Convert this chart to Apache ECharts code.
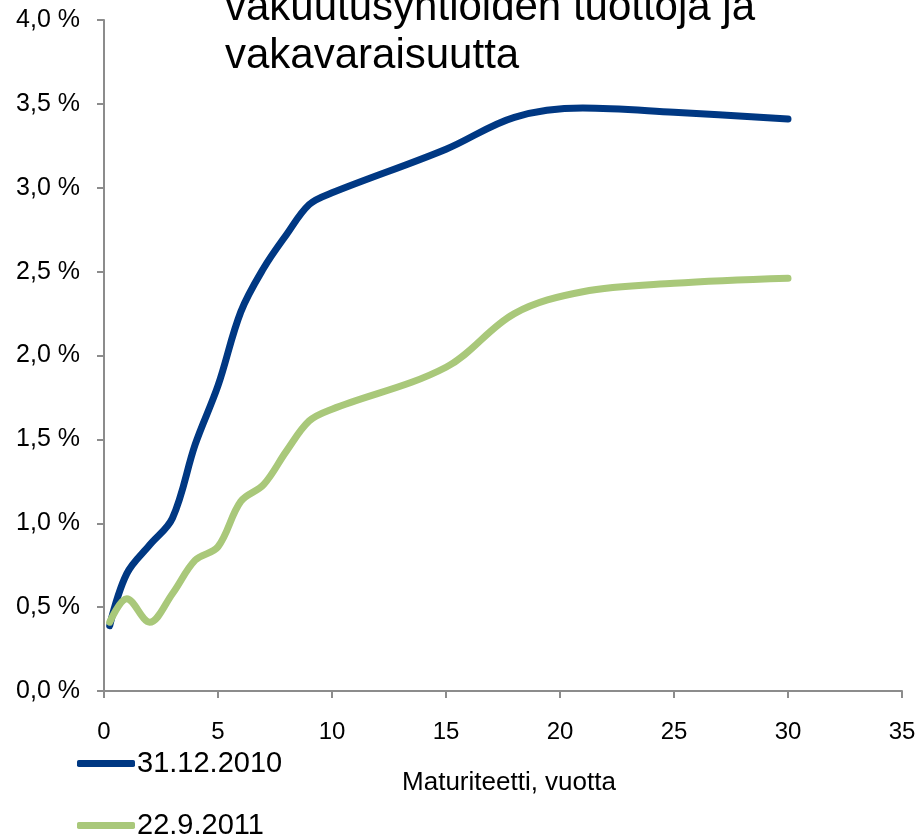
<!DOCTYPE html>
<html>
<head>
<meta charset="utf-8">
<script src="https://cdn.jsdelivr.net/npm/echarts@6/dist/echarts.min.js"></script>
<style>
  html, body { margin: 0; padding: 0; background: #fff; }
  #chart { width: 920px; height: 839px; }
</style>
</head>
<body>
<div id="chart"></div>
<script>
// maturiteetti (vuotta) ja korko (%)
var maturities = [0.25, 1, 2, 3, 4, 5, 6, 7, 8, 9, 10, 15, 18, 21, 25, 30];
var curve2010 = [0.39, 0.70, 0.87, 1.03, 1.47, 1.82, 2.26, 2.52, 2.72, 2.90, 2.97, 3.23, 3.42, 3.475, 3.45, 3.41];
var curve2011 = [0.41, 0.55, 0.41, 0.58, 0.78, 0.86, 1.13, 1.23, 1.43, 1.61, 1.68, 1.93, 2.25, 2.38, 2.43, 2.46];
var seriesNames = ['31.12.2010', '22.9.2011'];
var titleText = 'vakuutusyhtiöiden tuottoja ja\nvakavaraisuutta';

function pairs(xs, ys) {
  var out = [];
  for (var i = 0; i < xs.length; i++) out.push([xs[i], ys[i]]);
  return out;
}

var chart = echarts.init(document.getElementById('chart'));
var font = 'Liberation Sans, Arial, sans-serif';

// yksi selite per rivi (pystysuunta)
function legendRow(name, top) {
  return {
    left: 77,
    top: top,
    padding: 0,
    itemWidth: 58,
    itemHeight: 7,
    icon: 'roundRect',
    textStyle: { fontFamily: font, fontSize: 29, color: '#000', padding: [0, 0, 0, -3] },
    data: [name]
  };
}

var option = {
  animation: false,
  textStyle: { fontFamily: font },
  title: {
    text: titleText,
    left: 225,
    top: -16,
    padding: 0,
    textStyle: { fontFamily: font, fontSize: 42, fontWeight: 'normal', color: '#000', lineHeight: 48 }
  },
  legend: [legendRow(seriesNames[0], 749), legendRow(seriesNames[1], 811)],
  grid: { left: 104, right: 18, top: 20, bottom: 148, containLabel: false },
  xAxis: {
    type: 'value',
    min: 0,
    max: 35,
    interval: 5,
    name: 'Maturiteetti, vuotta',
    nameLocation: 'middle',
    nameGap: 79,
    nameTextStyle: { fontFamily: font, fontSize: 26, color: '#000', padding: [0, 0, 0, 12] },
    axisLine: { lineStyle: { color: '#8c8c8c', width: 2 } },
    axisTick: { length: 7, lineStyle: { color: '#8c8c8c', width: 2 } },
    axisLabel: { fontFamily: font, fontSize: 24, color: '#000', margin: 29 },
    splitLine: { show: false }
  },
  yAxis: {
    type: 'value',
    min: 0,
    max: 4,
    interval: 0.5,
    axisLine: { show: true, lineStyle: { color: '#8c8c8c', width: 2 } },
    axisTick: { show: true, length: 7, lineStyle: { color: '#8c8c8c', width: 2 } },
    axisLabel: {
      fontFamily: font, fontSize: 25, color: '#000', margin: 24,
      formatter: function (v) { return v.toFixed(1).replace('.', ',') + ' %'; }
    },
    splitLine: { show: false }
  },
  series: [
    {
      name: seriesNames[0],
      type: 'line',
      data: pairs(maturities, curve2010),
      smooth: 0.35,
      showSymbol: false,
      lineStyle: { color: '#003883', width: 7, cap: 'round' },
      itemStyle: { color: '#003883' }
    },
    {
      name: seriesNames[1],
      type: 'line',
      data: pairs(maturities, curve2011),
      smooth: 0.35,
      showSymbol: false,
      lineStyle: { color: '#a9c87a', width: 7, cap: 'round' },
      itemStyle: { color: '#a9c87a' }
    }
  ]
};

chart.setOption(option);
window.addEventListener('resize', function () {
  chart.resize();
});
</script>
</body>
</html>
